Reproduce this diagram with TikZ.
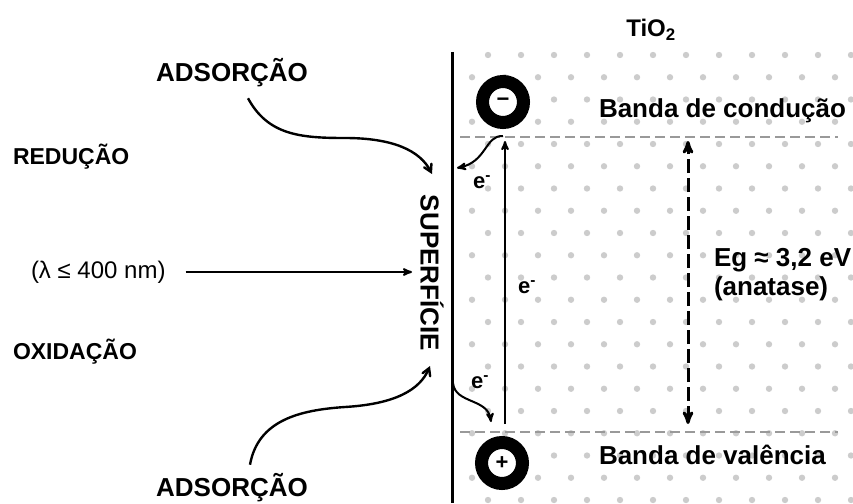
\documentclass[tikz,border=0pt]{standalone}
\usepackage{fontspec}
\setmainfont{Liberation Sans}
\usetikzlibrary{arrows,positioning,calc}

\begin{document}
\begin{tikzpicture}[x=1pt, y=-1pt, ->, >=stealth', line width=2pt]
\tikzstyle{every node}=[inner sep=0pt, text=black]
\tikzstyle{label}=[font=\fontsize{26}{26}\selectfont\bfseries]
\tikzstyle{side}=[font=\fontsize{23}{23}\selectfont\bfseries, anchor=west]
\tikzstyle{elec}=[font=\fontsize{22}{22}\selectfont\bfseries]
\tikzstyle{ion}=[circle, draw=black, line width=13pt, fill=white, minimum size=41pt, font=\fontsize{22}{22}\selectfont\bfseries]
\tikzstyle{band}=[-, draw=gray!80, dash pattern=on 10pt off 5pt, line width=1.5pt]
\tikzstyle{dot}=[-, fill=gray!40]
\tikzstyle{adsorb}=[-angle 60, line width=2.4pt]
\useasboundingbox (0,0) rectangle (853,503);
% pontos do TiO2
\foreach \r in {0,...,20} {
  \pgfmathsetmacro\yy{55+22.25*\r}
  \pgfmathsetmacro\xo{mod(\r,2)==1 ? 472 : 488}
  \foreach \c in {0,...,11}
    \fill[dot] (\xo+33*\c, \yy) circle (3.2pt);
}
\draw[-, line width=3pt] (452,52) -- (452,503);
\draw[band] (460,137) -- (838,137);
\draw[band] (460,432) -- (838,432);
\node[font=\fontsize{24}{24}\selectfont\bfseries] (tio2) at (651,30) {TiO\textsubscript{2}};
\node[ion] (neg) at (503,102) {−};
\node[ion] (pos) at (502,463) {+};
\node[label, anchor=west] (cb) at (598,111) {Banda de condução};
\node[label, anchor=west] (vb) at (598,455) {Banda de valência};
\node[label, anchor=west] (eg) at (713,260) {Eg ≈ 3,2 eV};
\node[label, anchor=west] (ana) at (713,289) {(anatase)};
\node[label, rotate=-90] (surf) at (432,273) {SUPERFÍCIE};
\node[label] (adstop) at (232,73) {ADSORÇÃO};
\node[label] (adsbot) at (232,488) {ADSORÇÃO};
\node[side] (red) at (12,157) {REDUÇÃO};
\node[side] (oxi) at (12,352) {OXIDAÇÃO};
\node[font=\fontsize{24}{24}\selectfont, anchor=west] (lambda) at (30,272) {(λ ≤ 400 nm)};
\node[elec] (e1) at (482,182) {e\textsuperscript{-}};
\node[elec] (e2) at (527,287) {e\textsuperscript{-}};
\node[elec] (e3) at (480,382) {e\textsuperscript{-}};
\coordinate (vbot) at (505,424);
\coordinate (vtop) at (505,141);
\coordinate (gbot) at (688,424);
\coordinate (gtop) at (688,141);
\coordinate (cbout) at (503,136);
\coordinate (sin) at (457,168);
\coordinate (sout) at (453,383);
\coordinate (vbin) at (491,422);
\coordinate (adin) at (432,174);
\coordinate (adout) at (430,366);
\coordinate (light) at (412,272);
\draw (vbot) -- (vtop);
\draw[<->, line width=3pt, dash pattern=on 14pt off 5pt] (gbot) -- (gtop);
\draw (cbout) .. controls (485,135) and (487,162) .. (sin);
\draw (sout) .. controls (455,404) and (488,398) .. (vbin);
\draw[adsorb] ($(adstop.south)+(16,10)$) .. controls (268,135) and (300,138) .. (345,138)
  .. controls (392,138) and (420,150) .. (adin);
\draw[adsorb] ($(adsbot.north)+(18,-8)$) .. controls (258,420) and (300,410) .. (345,407)
  .. controls (395,404) and (420,390) .. (adout);
\draw ($(lambda.east)+(19,0)$) -- (light);
\end{tikzpicture}
\end{document}
